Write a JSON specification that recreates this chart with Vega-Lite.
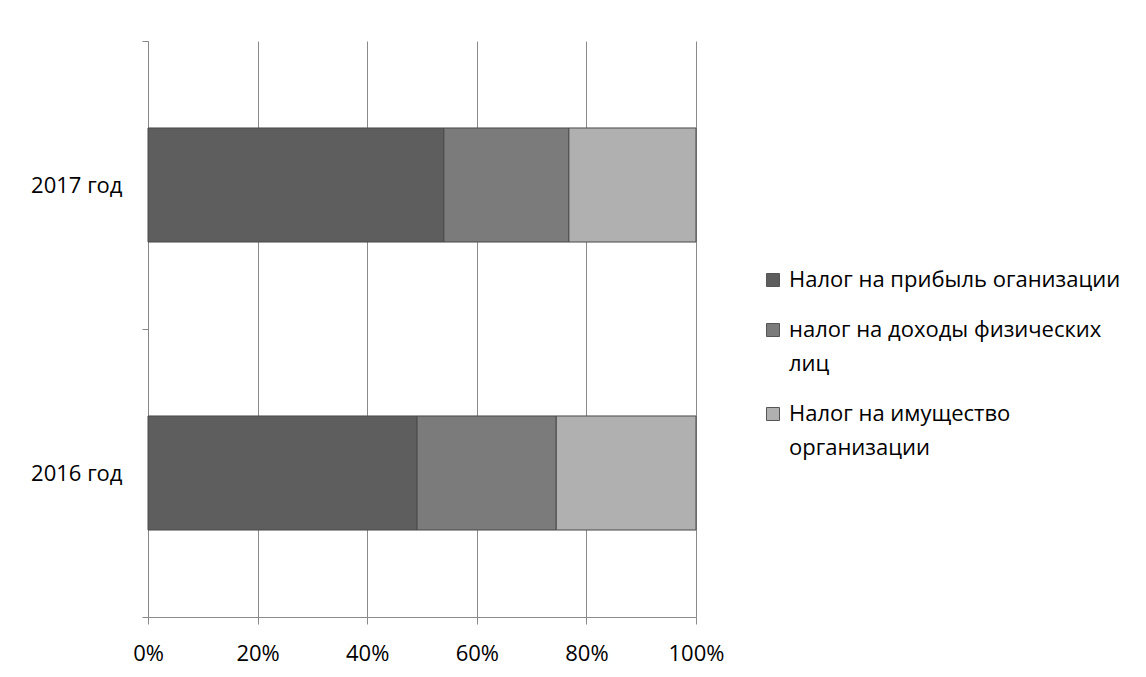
{
  "$schema": "https://vega.github.io/schema/vega-lite/v6.json",
  "autosize": {"type": "none"},
  "width": 548,
  "height": 576,
  "padding": {"left": 148, "top": 41, "right": 450, "bottom": 60},
  "background": "white",
  "config": {
    "view": {"stroke": null},
    "font": "Open Sans",
    "axis": {"labelFont": "Open Sans", "labelColor": "#000000", "labelFontSize": 22},
    "legend": {"labelFont": "Open Sans", "labelColor": "#000000", "labelFontSize": 22}
  },
  "data": {
    "values": [
      {"year": "2017 год", "tax": "Налог на прибыль оганизации", "share": 54.0, "order": 1},
      {"year": "2017 год", "tax": "налог на доходы физических лиц", "share": 22.8, "order": 2},
      {"year": "2017 год", "tax": "Налог на имущество организации", "share": 23.2, "order": 3},
      {"year": "2016 год", "tax": "Налог на прибыль оганизации", "share": 49.1, "order": 1},
      {"year": "2016 год", "tax": "налог на доходы физических лиц", "share": 25.4, "order": 2},
      {"year": "2016 год", "tax": "Налог на имущество организации", "share": 25.5, "order": 3}
    ]
  },
  "mark": {"type": "bar", "stroke": "#4a4a4a", "strokeWidth": 1, "height": {"band": 0.396}},
  "encoding": {
    "y": {
      "field": "year",
      "type": "nominal",
      "sort": ["2017 год", "2016 год"],
      "title": null,
      "scale": {"paddingInner": 0, "paddingOuter": 0},
      "axis": {
        "tickBand": "extent",
        "domainColor": "#888888",
        "tickColor": "#888888",
        "tickSize": 6,
        "labelPadding": 20,
        "grid": false
      }
    },
    "x": {
      "field": "share",
      "type": "quantitative",
      "stack": "normalize",
      "title": null,
      "scale": {"domain": [0, 1], "nice": false},
      "axis": {
        "format": ".0%",
        "values": [0, 0.2, 0.4, 0.6, 0.8, 1],
        "labelFlush": false,
        "grid": true,
        "gridColor": "#8a8a8a",
        "gridOpacity": 1,
        "domainColor": "#8a8a8a",
        "tickColor": "#8a8a8a",
        "tickSize": 7,
        "labelPadding": 19
      }
    },
    "color": {
      "field": "tax",
      "type": "nominal",
      "sort": ["Налог на прибыль оганизации", "налог на доходы физических лиц", "Налог на имущество организации"],
      "scale": {"range": ["#5e5e5e", "#7b7b7b", "#b0b0b0"]},
      "legend": {
        "title": null,
        "orient": "none",
        "legendX": 614,
        "legendY": 228,
        "symbolType": "square",
        "symbolSize": 169,
        "symbolStrokeColor": "#555555",
        "symbolStrokeWidth": 1,
        "labelLimit": 400,
        "labelOffset": 5,
        "rowPadding": 28,
        "labelExpr": "datum.label == 'налог на доходы физических лиц' ? ['налог на доходы физических', 'лиц'] : datum.label == 'Налог на имущество организации' ? ['Налог на имущество', 'организации'] : datum.label",
        "encode": {"labels": {"update": {"lineHeight": {"value": 34}}}}
      }
    },
    "order": {"field": "order", "type": "quantitative"}
  }
}
